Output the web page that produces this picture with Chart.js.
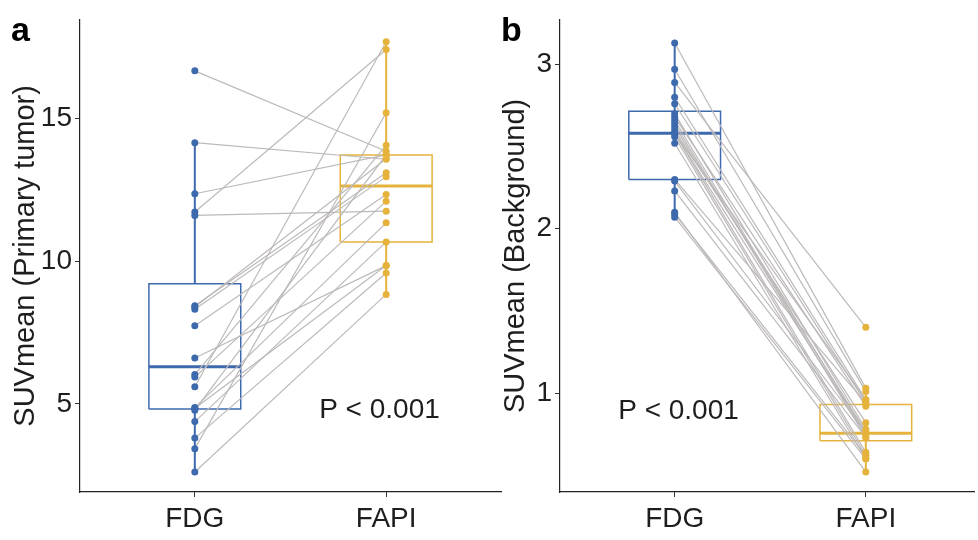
<!DOCTYPE html>
<html>
<head>
<meta charset="utf-8">
<script src="https://cdn.jsdelivr.net/npm/chart.js@4.4.1/dist/chart.umd.min.js"></script>
<style>
  body { margin: 0; background: #fff; width: 978px; height: 540px; position: relative; overflow: hidden; }
  .panel { position: absolute; top: 0; height: 540px; }
  #wrapA { left: 0; width: 505px; }
  #wrapB { left: 490px; width: 488px; }
</style>
</head>
<body>
<div class="panel" id="wrapA"><canvas id="chartA"></canvas></div>
<div class="panel" id="wrapB"><canvas id="chartB"></canvas></div>
<script>
// 1. data
const groups = ['FDG', 'FAPI'];

// panel a : primary tumor (paired, same index = same patient)
const tumorFdg  = [16.68, 14.16, 12.37, 11.73, 11.61, 8.44, 8.32, 8.40, 7.74, 6.61, 6.03, 5.94, 5.60, 4.87, 4.85, 4.78, 4.38, 3.80, 3.43, 2.61];
const tumorFapi = [13.86, 13.58, 13.73, 17.43, 11.76, 13.11, 12.97, 13.60, 12.34, 9.85, 14.07, 12.11, 17.70, 11.35, 9.85, 13.73, 10.68, 9.59, 15.21, 8.84];
// lower whisker, Q1, median, Q3, upper whisker
const tumorBoxFdg  = [2.61, 4.82, 6.30, 9.21, 14.16];
const tumorBoxFapi = [8.84, 10.68, 12.64, 13.73, 17.70];
const tumorTicks = [5, 10, 15];

// panel b : background
const bgFdg  = [3.13, 2.97, 2.89, 2.80, 2.76, 2.70, 2.68, 2.66, 2.64, 2.62, 2.60, 2.58, 2.58, 2.56, 2.52, 2.30, 2.29, 2.23, 2.10, 2.09, 2.07, 2.58];
const bgFapi = [1.03, 1.01, 1.40, 0.96, 0.94, 0.78, 0.92, 0.75, 0.73, 0.765, 0.82, 0.64, 0.75, 0.62, 0.60, 0.94, 0.76, 0.73, 0.52, 0.62, 0.60, 0.96];
const bgBoxFdg  = [2.07, 2.30, 2.58, 2.715, 3.13];
const bgBoxFapi = [0.52, 0.71, 0.755, 0.93, 1.03];
const bgTicks = [1, 2, 3];

const BLUE = '#3D69AD';
const GOLD = '#E5B33C';
const PAIR = '#BDB9B9';
const INK = '#1e1e1e';
const FONT = 'Liberation Sans, Arial, sans-serif';

// 2. box plot parts as line datasets
function boxDatasets(x, s, color) {
  const w = 0.24;
  const base = { showLine: true, pointRadius: 0, borderColor: color, order: 2, spanGaps: false };
  return [
    Object.assign({}, base, { borderWidth: 1.5, data: [
      { x: x - w, y: s[1] }, { x: x + w, y: s[1] }, { x: x + w, y: s[3] }, { x: x - w, y: s[3] }, { x: x - w, y: s[1] }
    ] }),
    Object.assign({}, base, { borderWidth: 2, data: [{ x: x, y: s[0] }, { x: x, y: s[1] }] }),
    Object.assign({}, base, { borderWidth: 2, data: [{ x: x, y: s[3] }, { x: x, y: s[4] }] }),
    Object.assign({}, base, { borderWidth: 3, data: [{ x: x - w, y: s[2] }, { x: x + w, y: s[2] }] })
  ];
}

function makePanel(id, fdg, fapi, boxFdg, boxFapi, yRange, yTicks, yTitle, letter, xMax, yAxisWidth, pText) {
  const datasets = [];
  // points on top
  datasets.push({ data: fdg.map(v => ({ x: 1, y: v })), pointRadius: 3.5, backgroundColor: BLUE, borderWidth: 0, order: 0 });
  datasets.push({ data: fapi.map(v => ({ x: 2, y: v })), pointRadius: 3.5, backgroundColor: GOLD, borderWidth: 0, order: 0 });
  // paired lines
  fdg.forEach((v, i) => {
    datasets.push({ data: [{ x: 1, y: v }, { x: 2, y: fapi[i] }], showLine: true, pointRadius: 0, borderColor: PAIR, borderWidth: 1.2, order: 1 });
  });
  boxDatasets(1, boxFdg, BLUE).forEach(d => datasets.push(d));
  boxDatasets(2, boxFapi, GOLD).forEach(d => datasets.push(d));

  const labelPlugin = {
    id: 'labels' + id,
    afterDraw(chart) {
      const c = chart.ctx;
      c.save();
      c.fillStyle = '#000';
      c.font = 'bold 34px ' + FONT;
      c.textAlign = 'left';
      c.textBaseline = 'alphabetic';
      c.fillText(letter, 11, 41);
      c.fillStyle = INK;
      c.font = '28px ' + FONT;
      c.textAlign = 'center';
      c.textBaseline = 'middle';
      c.fillText('P < 0.001', chart.scales.x.getPixelForValue(pText[0]), chart.scales.y.getPixelForValue(pText[1]));
      c.restore();
    }
  };

  return new Chart(document.getElementById(id), {
    type: 'scatter',
    data: { datasets },
    options: {
      responsive: true,
      maintainAspectRatio: false,
      animation: false,
      events: [],
      layout: { padding: { top: 15, right: 0, bottom: 0, left: 0 } },
      plugins: { legend: { display: false }, tooltip: { enabled: false } },
      scales: {
        x: {
          type: 'linear', min: 0.4, max: xMax,
          afterBuildTicks: axis => { axis.ticks = [{ value: 1 }, { value: 2 }]; },
          afterFit: axis => { axis.height = 48; },
          ticks: { callback: v => groups[v - 1], font: { size: 28, family: FONT }, color: INK, padding: 5, maxRotation: 0 },
          grid: { drawOnChartArea: false, tickLength: 5, color: '#333' },
          border: { color: '#222', width: 1.2 }
        },
        y: {
          type: 'linear', min: yRange[0], max: yRange[1],
          afterBuildTicks: axis => { axis.ticks = yTicks.map(v => ({ value: v })); },
          afterFit: axis => { axis.width = yAxisWidth; },
          ticks: { font: { size: 28, family: FONT }, color: INK, padding: 3 },
          grid: { drawOnChartArea: false, tickLength: 5, color: '#333' },
          border: { color: '#222', width: 1.2 },
          title: { display: true, text: yTitle, font: { size: 29, family: FONT }, color: INK, padding: { top: 9, bottom: 0 } }
        }
      }
    },
    plugins: [labelPlugin]
  });
}

makePanel('chartA', tumorFdg, tumorFapi, tumorBoxFdg, tumorBoxFapi, [1.91, 18.47], tumorTicks,
  'SUVmean (Primary tumor)', 'a', 2.6, 80, [1.965, 4.76]);
makePanel('chartB', bgFdg, bgFapi, bgBoxFdg, bgBoxFapi, [0.398, 3.271], bgTicks,
  'SUVmean (Background)', 'b', 2.566, 70, [1.02, 0.89]);
</script>
</body>
</html>
